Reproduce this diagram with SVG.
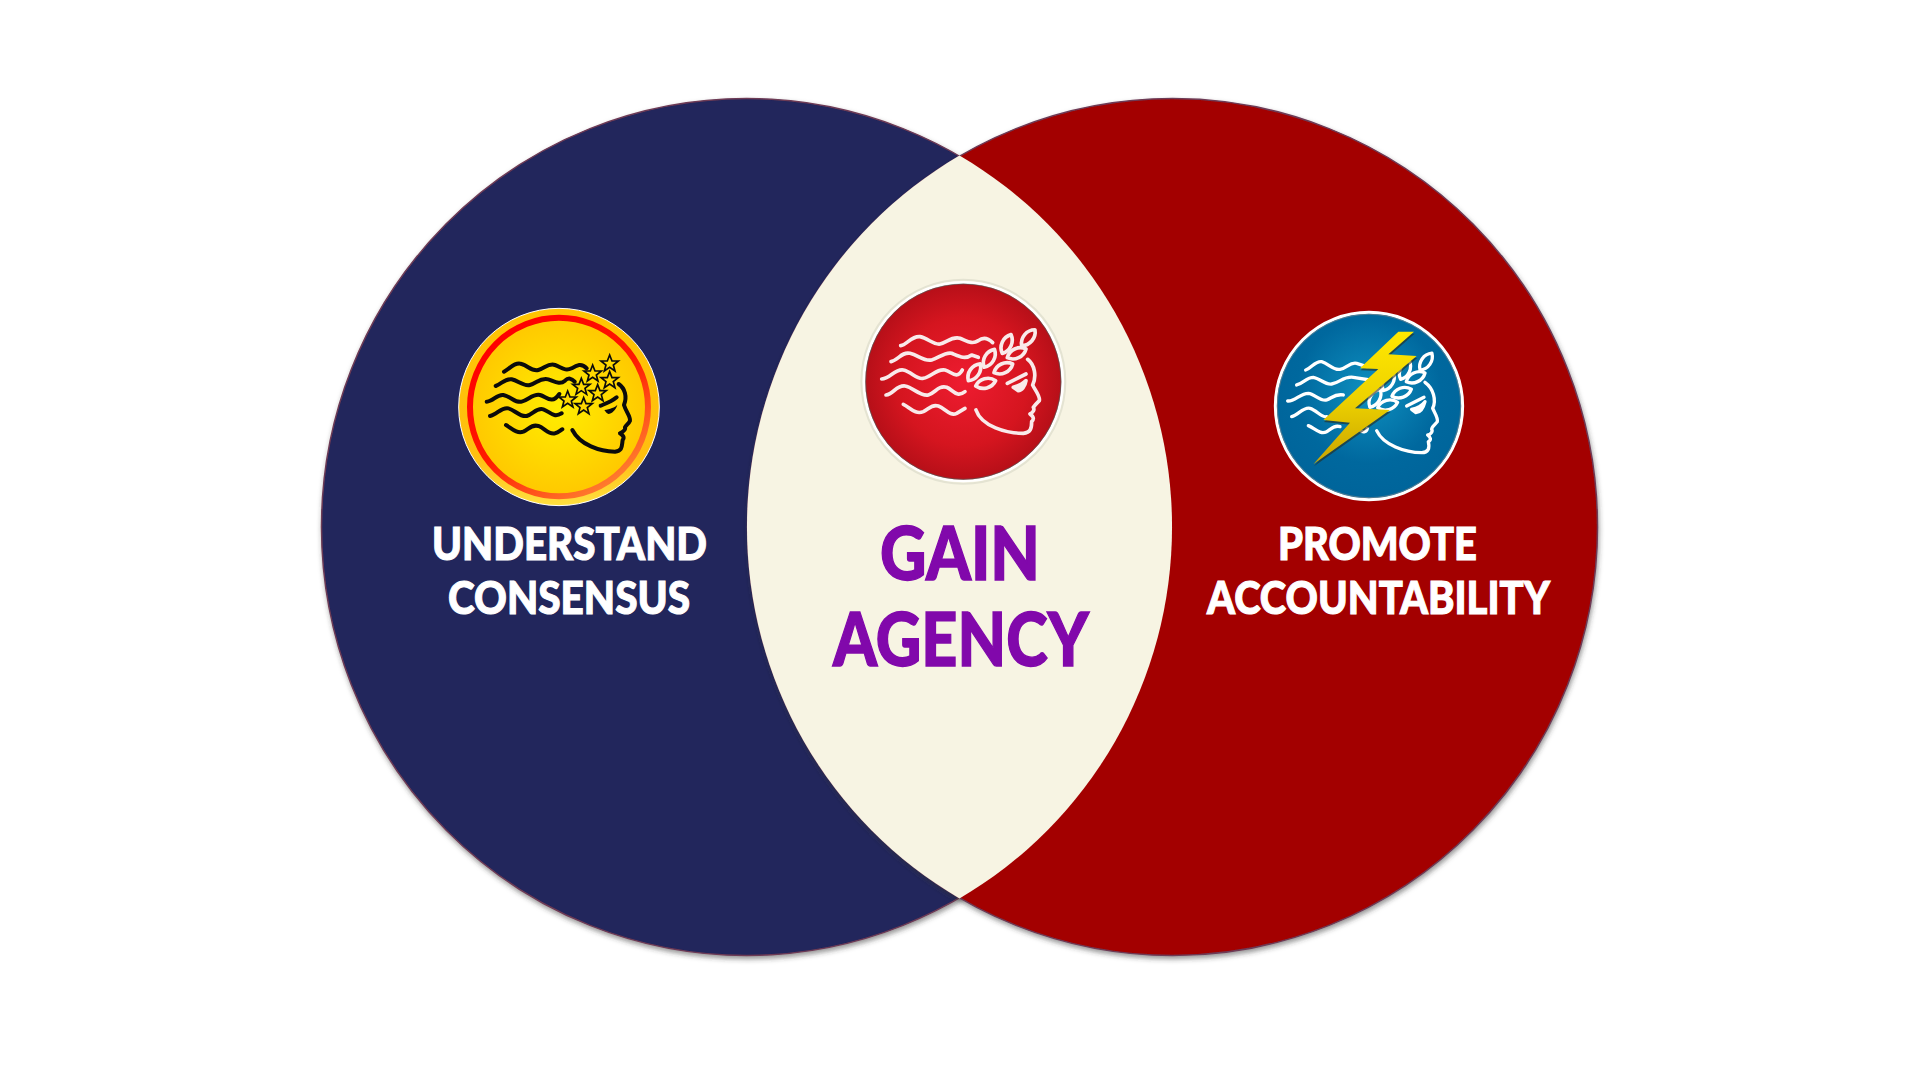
<svg xmlns="http://www.w3.org/2000/svg" width="1920" height="1080" viewBox="0 0 1920 1080">
<style>
.lbl{font-family:"Lato","Liberation Sans",sans-serif;font-weight:900;text-anchor:start}
.w{fill:#fff;font-size:46px;stroke:#fff;stroke-width:1.1}
.p{fill:#8108ab;font-size:75px;stroke:#8108ab;stroke-width:1.4}
.bk{fill:none;stroke:#0b0b0b;stroke-width:12;stroke-linecap:round;stroke-linejoin:round}
.wh{fill:none;stroke:#fff;stroke-width:10;stroke-linecap:round;stroke-linejoin:round}
.wr{fill:none;stroke:#f9eaea;stroke-width:11;stroke-linecap:round;stroke-linejoin:round}
.disc{stroke:#6d3a55;stroke-width:1.5}
</style>
<defs>
<filter id="sh" x="-5%" y="-5%" width="110%" height="110%"><feDropShadow dx="1" dy="3" stdDeviation="2.5" flood-color="#333" flood-opacity=".5"/></filter>
<filter id="soft" x="-5%" y="-5%" width="110%" height="110%"><feGaussianBlur stdDeviation="1.6"/></filter>
<radialGradient id="gy"><stop offset="0" stop-color="#ffee00"/><stop offset="1" stop-color="#ffc800"/></radialGradient>
<linearGradient id="gyo" x1="0" y1="0" x2="0" y2="1"><stop offset="0" stop-color="#ffc400"/><stop offset=".75" stop-color="#ffbf10"/><stop offset="1" stop-color="#ffe040"/></linearGradient>
<linearGradient id="gyr" x1=".2" y1=".1" x2=".8" y2=".95"><stop offset="0" stop-color="#ff0000"/><stop offset=".5" stop-color="#ff1a00"/><stop offset="1" stop-color="#ff8030"/></linearGradient>
<radialGradient id="gr"><stop offset="0" stop-color="#ee1c30"/><stop offset=".65" stop-color="#d5151f"/><stop offset="1" stop-color="#b50f18"/></radialGradient>
<radialGradient id="gb" cx=".5" cy=".42" r=".55"><stop offset="0" stop-color="#0e90c0"/><stop offset=".7" stop-color="#00689e"/><stop offset="1" stop-color="#00659b"/></radialGradient>
<linearGradient id="gbolt" x1="0" y1="0" x2="0" y2="1"><stop offset="0" stop-color="#ffe800"/><stop offset=".5" stop-color="#eed200"/><stop offset="1" stop-color="#c8a400"/></linearGradient>
<path id="star" d="M0 -26 L7 -8 L26 -8 L11 4 L16 22 L0 11 L-16 22 L-11 4 L-26 -8 L-7 -8 Z" fill="#ffd800" stroke="#0b0b0b" stroke-width="5" stroke-linejoin="miter"/>
<path id="leaf" d="M-31 0 C-15 -19 15 -19 31 0 C15 19 -15 19 -31 0 Z"/>
</defs>

<g id="venn-circles">
<ellipse id="circle-left" class="disc" cx="746.500" cy="527" rx="425" ry="428.500" fill="#20255b" filter="url(#sh)"/>
<ellipse id="circle-right" class="disc" cx="1172.500" cy="527" rx="425" ry="428.500" fill="#a30000" filter="url(#sh)"/>
<path id="lens" d="M959.500 155.600 A425.500 429 0 0 1 959.500 898.400 A425.500 429 0 0 1 959.500 155.600 Z" fill="#f7f4e3"/>
</g>

<g id="icon-consensus" transform="translate(440 290) scale(.3333)">
<ellipse cx="357" cy="351" rx="301" ry="296" fill="url(#gyo)" stroke="#fff" stroke-width="3"/>
<ellipse cx="357" cy="351" rx="267" ry="268" fill="url(#gy)" stroke="url(#gyr)" stroke-width="18"/>
<g class="bk">
<path d="M192 245 C210 235 225 215 245 222 C265 228 275 245 295 240 C315 235 325 218 345 225 C365 232 375 245 395 235 C410 225 425 218 440 235"/>
<path d="M167 288 C185 282 195 265 215 268 C235 272 250 290 270 285 C290 280 300 262 325 268 C345 275 360 285 375 272 C385 262 395 265 404 275"/>
<path d="M140 335 C160 335 170 312 190 315 C215 320 225 340 245 335 C265 330 280 310 300 315 C320 320 335 345 358 312"/>
<path d="M150 378 C170 375 185 350 205 355 C225 360 240 382 260 378 C280 372 290 352 310 358 C330 365 340 385 365 370"/>
<path d="M198 405 C215 415 230 432 250 425 C265 418 275 402 295 408 C315 415 325 435 345 430 C355 428 360 422 367 418"/>
<path d="M536 282 C555 295 562 320 552 345 C558 365 572 380 570 392 C566 402 558 405 555 412 C558 420 550 425 540 430 C548 435 555 442 548 450 C545 470 548 482 525 485 C480 485 420 465 397 420"/>
<path d="M482 347 C500 340 515 335 530 322"/>
</g>
<path d="M493 360 C510 358 525 352 532 345 C528 360 515 372 505 372 C500 370 497 365 493 360 Z" fill="#0b0b0b"/>
<use href="#star" x="509" y="221"/><use href="#star" x="458" y="251"/><use href="#star" x="509" y="271"/><use href="#star" x="424" y="291"/><use href="#star" x="473" y="310"/><use href="#star" x="383" y="329"/><use href="#star" x="431" y="349"/>
</g>

<g id="icon-agency" transform="translate(840 270) scale(.3333)">
<circle cx="370" cy="335" r="306" fill="none" stroke="#e4e3d2" stroke-width="6"/>
<circle cx="370" cy="335" r="298" fill="url(#gr)" stroke="#fff" stroke-width="8"/>
<circle cx="370" cy="335" r="293" fill="none" stroke="#2a7a72" stroke-opacity=".5" stroke-width="3"/>
<g class="wr" filter="url(#soft)">
<path d="M182 227 C200 225 215 197 240 200 C265 205 280 225 300 222 C320 218 335 198 360 205 C380 212 395 225 415 212 C430 200 445 205 458 218"/>
<path d="M153 275 C175 270 185 245 210 250 C235 255 250 275 275 270 C295 265 315 245 335 250 C355 258 375 270 395 255 L415 262"/>
<path d="M125 327 C150 327 165 295 190 300 C215 305 230 330 250 325 C275 320 290 295 315 300 C335 305 350 330 367 300"/>
<path d="M138 375 C160 372 170 345 195 348 C220 352 240 380 265 375 C285 370 295 345 320 352 C340 360 350 385 375 365"/>
<path d="M190 403 C210 412 225 435 250 425 C265 418 275 402 295 408 C315 415 330 440 350 430 L375 415"/>
<path d="M563 268 C585 285 590 320 578 345 C585 360 602 380 598 392 C590 400 585 405 580 412 C585 420 578 428 570 432 C578 438 585 445 575 455 C575 475 572 488 550 490 C500 490 425 470 408 420"/>
<path d="M502 340 L558 312"/>
<path d="M520 352 C535 348 550 340 558 332 C555 350 545 362 535 362 Z" fill="#f9eaea"/>
<use href="#leaf" transform="translate(565 203) rotate(-50)"/><use href="#leaf" transform="translate(500 222) rotate(-65)"/><use href="#leaf" transform="translate(530 250) rotate(-25)"/><use href="#leaf" transform="translate(448 265) rotate(-60)"/><use href="#leaf" transform="translate(490 295) rotate(-25)"/><use href="#leaf" transform="translate(403 307) rotate(-55)"/><use href="#leaf" transform="translate(437 340) rotate(-15)"/>
</g>
</g>

<g id="icon-accountability" transform="translate(1260 300) scale(.3333)">
<circle cx="327" cy="318" r="281" fill="url(#gb)" stroke="#fff" stroke-width="9"/>
<circle cx="327" cy="318" r="275" fill="none" stroke="#8a8a8a" stroke-opacity=".6" stroke-width="3"/>
<g class="wh">
<path d="M137 210 C155 205 165 182 185 185 C205 190 220 212 240 208 C260 205 270 185 290 190 L320 200"/>
<path d="M110 255 C130 250 140 232 160 232 C180 235 195 255 215 252 C240 248 250 228 280 232 L330 240"/>
<path d="M83 303 C105 305 120 280 145 280 C165 282 180 305 200 300 C215 295 225 280 250 285"/>
<path d="M95 350 C115 345 130 320 150 325 C170 330 185 355 200 350"/>
<path d="M145 377 C165 385 180 405 200 395 C215 385 225 375 240 380"/>
<path d="M300 390 C310 400 320 395 322 385"/>
<path d="M495 247 C520 265 530 300 518 325 C525 340 535 355 532 365 C525 375 515 380 515 388 C520 395 510 405 503 405 C512 412 515 420 505 425 C510 445 505 458 485 458 C435 458 370 435 350 392"/>
<path d="M440 318 L492 292"/>
<path d="M455 328 C470 325 485 318 495 305 C490 325 480 338 468 338 Z" fill="#fff"/>
<use href="#leaf" transform="translate(498 185) rotate(-55)"/><use href="#leaf" transform="translate(435 210) rotate(-65)"/><use href="#leaf" transform="translate(467 232) rotate(-25)"/><use href="#leaf" transform="translate(385 245) rotate(-60)"/><use href="#leaf" transform="translate(425 278) rotate(-20)"/><use href="#leaf" transform="translate(345 295) rotate(-60)"/><use href="#leaf" transform="translate(383 315) rotate(-15)"/>
</g>
<path d="M415 95 L462 95 L385 163 L470 168 L285 325 L390 330 L160 493 L270 368 L190 360 L355 207 L300 205 Z" transform="translate(2 6)" fill="#2a2a1a" fill-opacity=".6"/>
<path d="M415 95 L462 95 L385 163 L470 168 L285 325 L390 330 L160 493 L270 368 L190 360 L355 207 L300 205 Z" fill="url(#gbolt)"/>
</g>

<g id="label-consensus">
<text class="lbl w" x="432" y="560" textLength="275" lengthAdjust="spacingAndGlyphs">UNDERSTAND</text>
<text class="lbl w" x="448" y="614" textLength="242" lengthAdjust="spacingAndGlyphs">CONSENSUS</text>
</g>
<g id="label-agency">
<text class="lbl p" x="880" y="580" textLength="160" lengthAdjust="spacingAndGlyphs">GAIN</text>
<text class="lbl p" x="833" y="666" textLength="256" lengthAdjust="spacingAndGlyphs">AGENCY</text>
</g>
<g id="label-accountability">
<text class="lbl w" x="1278" y="560" textLength="199" lengthAdjust="spacingAndGlyphs">PROMOTE</text>
<text class="lbl w" x="1207" y="614" textLength="343" lengthAdjust="spacingAndGlyphs">ACCOUNTABILITY</text>
</g>
</svg>
